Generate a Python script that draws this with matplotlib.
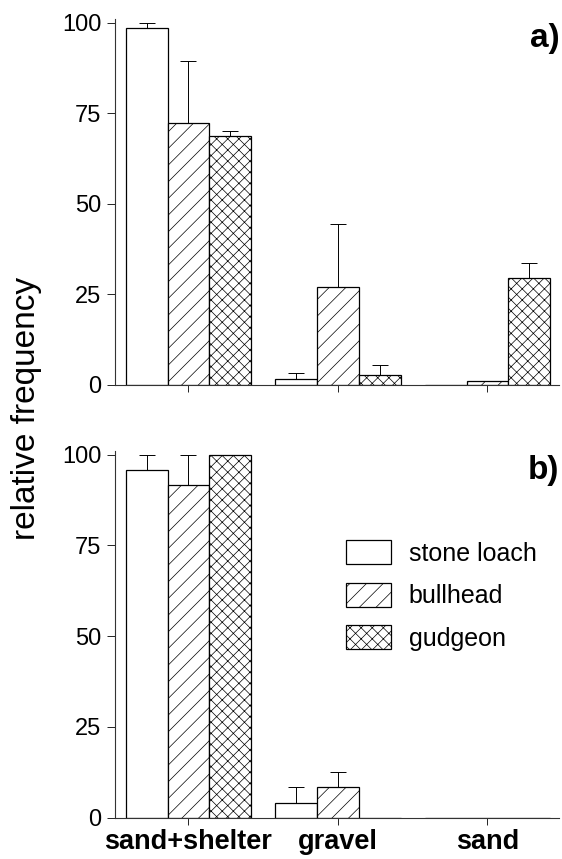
import matplotlib.pyplot as plt
import numpy as np

plt.rcParams['font.family'] = ['Liberation Sans', 'DejaVu Sans']
plt.rcParams['hatch.linewidth'] = 0.5
plt.rcParams['hatch.color'] = '#555555'

habitats = ['sand+shelter', 'gravel', 'sand']
species = ['stone loach', 'bullhead', 'gudgeon']
hatches = ['', '//', 'xxx']

# panel a) mean and upper error
a_loach = [98.5, 1.5, 0.0]
a_loach_err = [1.5, 1.9, 0.0]
a_bull = [72.4, 27.1, 1.0]
a_bull_err = [16.9, 17.4, 0.0]
a_gud = [68.6, 2.7, 29.6]
a_gud_err = [1.4, 2.8, 4.1]

# panel b)
b_loach = [95.7, 4.2, 0.0]
b_loach_err = [4.3, 4.3, 0.0]
b_bull = [91.6, 8.5, 0.0]
b_bull_err = [8.4, 4.1, 0.0]
b_gud = [100.0, 0.0, 0.0]
b_gud_err = [0.0, 0.0, 0.0]

fig = plt.figure(figsize=(5.62, 8.59), dpi=100)
ax1 = fig.add_axes([0.205, 0.552, 0.79, 0.426])
ax2 = fig.add_axes([0.205, 0.048, 0.79, 0.427])

x = np.arange(len(habitats))
w = 0.28


def draw(ax, vals, errs, tag):
    for i, (v, e) in enumerate(zip(vals, errs)):
        pos = x + (i - 1) * w
        ax.bar(pos, v, width=w, facecolor='white', edgecolor='black',
               linewidth=0.9, hatch=hatches[i], label=species[i], zorder=2)
        yerr = np.vstack([np.zeros(len(e)), e])
        m = np.array(e) > 0
        ax.errorbar(pos[m], np.array(v)[m], yerr=yerr[:, m], fmt='none',
                    ecolor='black', elinewidth=0.7, capsize=6, capthick=0.7,
                    zorder=1)
    ax.set_xlim(-0.49, 2.48)
    ax.set_ylim(0, 101)
    ax.set_yticks([0, 25, 50, 75, 100])
    ax.set_xticks(x)
    for s in ['top', 'right']:
        ax.spines[s].set_visible(False)
    for s in ['left', 'bottom']:
        ax.spines[s].set_color('#333333')
        ax.spines[s].set_linewidth(0.8)
    ax.tick_params(axis='y', labelsize=17, length=6, width=0.6, pad=4)
    ax.tick_params(axis='x', length=5, width=0.6, pad=3)
    ax.text(1.0, 0.99, tag, transform=ax.transAxes, ha='right', va='top',
            fontsize=24, fontweight='bold')


draw(ax1, [a_loach, a_bull, a_gud], [a_loach_err, a_bull_err, a_gud_err], 'a)')
draw(ax2, [b_loach, b_bull, b_gud], [b_loach_err, b_bull_err, b_gud_err], 'b)')

ax1.set_xticklabels([])
ax2.set_xticklabels(habitats, fontsize=19.5, fontweight='bold')

fig.text(0.048, 0.524, 'relative frequency', rotation=90, ha='center',
         va='center', fontsize=24)

ax2.legend(loc='upper left', bbox_to_anchor=(0.52, 0.757), frameon=False,
           fontsize=18, handlelength=1.8, handleheight=1.1,
           labelspacing=0.68, handletextpad=0.7, borderpad=0,
           borderaxespad=0)

fig.savefig('out.png', dpi=100)
